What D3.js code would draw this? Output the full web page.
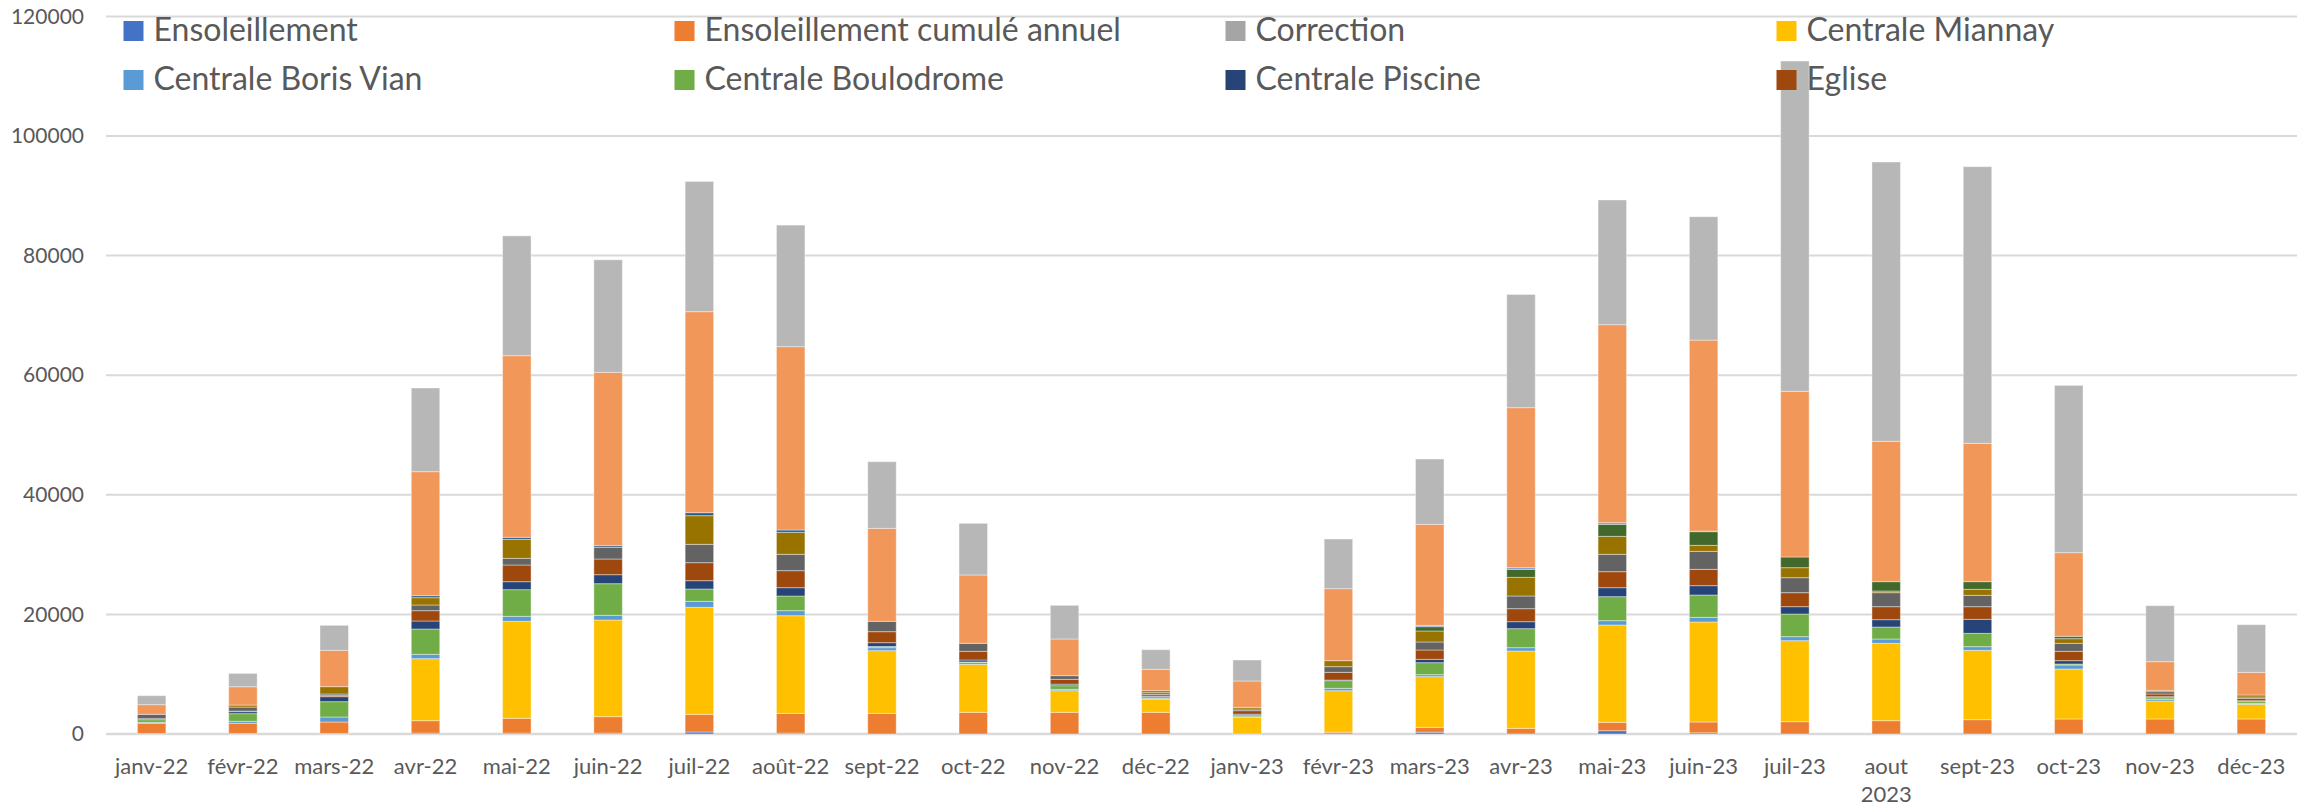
<!DOCTYPE html>
<html>
<head>
<meta charset="utf-8">
<script src="https://cdn.jsdelivr.net/npm/d3@7/dist/d3.min.js"></script>
<style>
  html, body { margin: 0; padding: 0; background: #ffffff; }
  svg { display: block; }
  text { font-family: "Lato", "Liberation Sans", sans-serif; fill: #595959; }
</style>
</head>
<body>
<svg id="chart" width="2310" height="806"></svg>
<script>
// ---------- DATA ----------
const months = ["janv-22","févr-22","mars-22","avr-22","mai-22","juin-22","juil-22","août-22",
  "sept-22","oct-22","nov-22","déc-22","janv-23","févr-23","mars-23","avr-23","mai-23",
  "juin-23","juil-23","aout 2023","sept-23","oct-23","nov-23","déc-23"];

const seriesNames = ["Ensoleillement","Ensoleillement cumulé annuel","Correction","Centrale Miannay",
  "Centrale Boris Vian","Centrale Boulodrome","Centrale Piscine","Eglise",
  "Série 9","Série 10","Série 11","Série 12","Série 13","Série 14","Série 15"];

const seriesColors = ["#4472C4","#ED7D31","#A5A5A5","#FFC000","#5B9BD5","#70AD47","#264478","#9E480E",
  "#636363","#997300","#255E91","#43682B","#698ED0","#F1975A","#B7B7B7"];

const legendCount = 8;

const ensoleillement = [100,100,100,150,150,150,330,150,0,0,0,0,0,0,300,0,550,200,0,0,0,0,0,0];
const ensoleillementCumule = [1684,1684,1907,2079,2470,2748,2959,3306,3456,3623,3623,3623,0,300,815,947,1401,1807,2062,2230,2397,2508,2508,2508];
const correction = [0,0,0,0,0,0,0,0,0,0,0,0,0,0,0,0,0,0,0,0,0,0,0,0];
const miannay = [0,0,0,10368,16220,16165,17892,16331,10479,8027,3623,2174,2787,6946,8472,12932,16276,16722,13545,12931,11594,8361,3010,2453];
const borisVian = [167,334,836,724,836,780,1003,837,502,300,223,167,100,390,335,558,724,780,669,725,613,669,279,167];
const boulodrome = [446,1282,2564,4237,4459,5295,2063,2452,200,100,613,279,290,1282,2006,3177,4014,3735,3790,2007,2229,168,279,335];
const piscine = [167,334,836,1338,1337,1503,1393,1394,636,324,250,100,150,100,557,1170,1505,1560,1227,1226,2342,557,167,100];
const eglise = [0,100,167,1728,2788,2623,3009,2844,1839,1450,809,290,575,1294,1561,2174,2675,2731,2341,2174,2118,1561,446,401];
const serie9 = [725,669,279,947,1115,1950,3066,2729,1728,1337,613,279,278,947,1338,2118,2898,3010,2508,2341,1895,1337,389,223];
const serie10 = [0,334,1226,1226,3177,0,4794,3679,0,0,0,334,279,1004,1840,3122,3010,1004,1672,279,1003,781,224,335];
const serie11 = [0,0,0,335,335,278,501,391,0,0,0,0,0,0,0,0,0,0,0,0,0,0,0,0];
const serie12 = [0,0,0,0,0,0,0,0,0,0,0,0,0,0,724,1337,2007,2285,1784,1560,1282,390,0,0];
const serie13 = [0,0,0,0,0,0,0,0,0,0,0,0,0,0,223,279,279,100,0,0,0,0,0,0];
const serie14 = [1616,3067,6076,20735,30377,28986,33612,30657,15551,11427,6132,3567,4404,12040,16889,26756,33110,31938,27703,23467,23132,13991,4793,3790];
const serie15 = [1505,2229,4180,13991,20036,18822,21778,20330,11145,8639,5630,3289,3511,8305,10926,18930,20851,20628,55239,46710,46265,27980,9365,7971];

const yTicks = [0,20000,40000,60000,80000,100000,120000];

// ---------- BUILD TABLE ----------
const seriesValues = [ensoleillement, ensoleillementCumule, correction, miannay, borisVian, boulodrome,
  piscine, eglise, serie9, serie10, serie11, serie12, serie13, serie14, serie15];

const table = months.map((m, i) => {
  const row = { month: m };
  seriesNames.forEach((s, k) => { row[s] = seriesValues[k][i]; });
  return row;
});

// ---------- LAYOUT ----------
const svg = d3.select("#chart");
const plot = { left: 106, right: 2297, top: 16.4, bottom: 734 };

const x = d3.scaleBand()
  .domain(months)
  .range([plot.left, plot.right])
  .paddingInner(0.688)
  .paddingOuter(0.344);

const y = d3.scaleLinear()
  .domain([0, 120000])
  .range([plot.bottom, plot.top]);

// gridlines
svg.append("g")
  .selectAll("line")
  .data(yTicks)
  .join("line")
  .attr("x1", plot.left)
  .attr("x2", plot.right)
  .attr("y1", d => y(d))
  .attr("y2", d => y(d))
  .attr("stroke", "#D9D9D9")
  .attr("stroke-width", d => d === 0 ? 2.5 : 2);

// y axis labels
const yAxis = d3.axisLeft(y).tickValues(yTicks).tickSize(0).tickPadding(0).tickFormat(d3.format("d"));
const gy = svg.append("g").attr("transform", `translate(${84},0)`).call(yAxis);
gy.select(".domain").remove();
gy.selectAll("text")
  .style("font-size", "21px")
  .style("font-family", "Lato, 'Liberation Sans', sans-serif")
  .attr("fill", "#595959");

// stacked bars
const stack = d3.stack().keys(seriesNames);
const stacked = stack(table);

const gBars = svg.append("g");
stacked.forEach((layer, k) => {
  gBars.append("g")
    .attr("fill", seriesColors[k])
    .selectAll("rect")
    .data(layer)
    .join("rect")
    .attr("x", d => x(d.data.month))
    .attr("width", x.bandwidth())
    .attr("y", d => y(d[1]))
    .attr("height", d => Math.max(0, y(d[0]) - y(d[1])))
    .attr("stroke", "#ffffff")
    .attr("stroke-opacity", d => (d[1] - d[0]) > 0 ? 0.4 : 0)
    .attr("stroke-width", 1);
});

// x axis labels
const xAxis = d3.axisBottom(x).tickSize(0).tickPadding(0);
const gx = svg.append("g").attr("transform", `translate(0,${plot.bottom})`).call(xAxis);
gx.select(".domain").remove();
gx.selectAll(".tick text").each(function(d) {
  const t = d3.select(this);
  t.text(null)
    .attr("y", 0)
    .attr("dy", null)
    .style("font-size", "22px")
    .style("font-family", "Lato, 'Liberation Sans', sans-serif")
    .attr("fill", "#595959");
  const parts = d.split(" ");
  parts.forEach((p, i) => {
    t.append("tspan")
      .attr("x", 0)
      .attr("y", 40 + i * 27.7)
      .text(p);
  });
});

// legend (truncated to first 8 entries as in the reference)
const legend = svg.append("g");
const legendItems = seriesNames.slice(0, legendCount).map((n, i) => ({ name: n, color: seriesColors[i], i }));
const lg = legend.selectAll("g")
  .data(legendItems)
  .join("g")
  .attr("transform", d => `translate(${123.5 + 551 * (d.i % 4)},${21 + 49 * Math.floor(d.i / 4)})`);
lg.append("rect")
  .attr("width", 20)
  .attr("height", 20)
  .attr("fill", d => d.color);
lg.append("text")
  .attr("x", 30)
  .attr("y", 20)
  .style("font-size", "32px")
  .attr("fill", "#595959")
  .text(d => d.name);
</script>
</body>
</html>
